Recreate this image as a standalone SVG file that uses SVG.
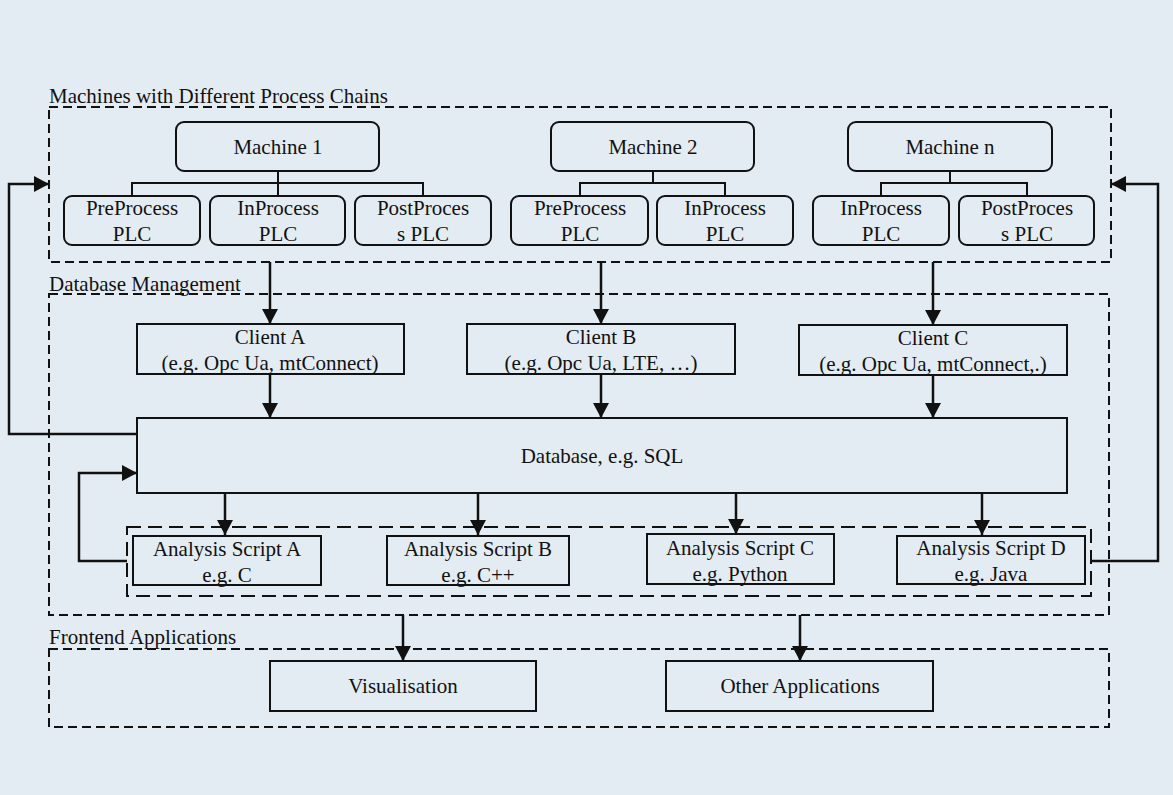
<svg xmlns="http://www.w3.org/2000/svg" width="1173" height="795" viewBox="0 0 1173 795">
  <style>
    text { font-family: "Liberation Serif", "Times New Roman", serif; font-size: 21px; fill: #111; }
    .mid { text-anchor: middle; }
    .box { fill: none; stroke: #111; stroke-width: 2; }
    .group { fill: none; stroke: #111; stroke-width: 2; stroke-dasharray: 9 5; }
    .inner { fill: none; stroke: #111; stroke-width: 2; stroke-dasharray: 14 7; }
    .link { fill: none; stroke: #111; stroke-width: 2; }
    .arrow { fill: none; stroke: #111; stroke-width: 2.5; marker-end: url(#head); }
  </style>
  <defs>
    <marker id="head" markerUnits="userSpaceOnUse" markerWidth="16" markerHeight="16" viewBox="0 0 16 16" refX="15" refY="8" orient="auto">
      <path d="M0,0 L15,8 L0,16 Z" fill="#111"/>
    </marker>
  </defs>

  <rect width="1173" height="795" fill="#e4ecf3"/>

  <!-- group frames -->
  <g id="groups">
    <text x="49" y="103">Machines with Different Process Chains</text>
    <rect class="group" x="49" y="107" width="1062" height="155"/>
    <text x="49" y="291">Database Management</text>
    <rect class="group" x="49" y="294" width="1060" height="321"/>
    <rect class="inner" x="127" y="527" width="964" height="69"/>
    <text x="49" y="644">Frontend Applications</text>
    <rect class="group" x="49" y="649" width="1060" height="78"/>
  </g>

  <!-- machines -->
  <g id="machine-1">
    <rect class="box" x="176" y="122" width="203" height="49" rx="8"/>
    <text class="mid" x="278" y="154">Machine 1</text>
  </g>
  <g id="m1-preprocess">
    <rect class="box" x="64" y="196" width="136" height="49" rx="8"/>
    <text class="mid" x="132" y="215">PreProcess</text>
    <text class="mid" x="132" y="241">PLC</text>
  </g>
  <g id="m1-inprocess">
    <rect class="box" x="210" y="196" width="135" height="49" rx="8"/>
    <text class="mid" x="278" y="215">InProcess</text>
    <text class="mid" x="278" y="241">PLC</text>
  </g>
  <g id="m1-postprocess">
    <rect class="box" x="355" y="196" width="136" height="49" rx="8"/>
    <text class="mid" x="423" y="215">PostProces</text>
    <text class="mid" x="423" y="241">s PLC</text>
  </g>

  <g id="machine-2">
    <rect class="box" x="551" y="122" width="203" height="49" rx="8"/>
    <text class="mid" x="653" y="154">Machine 2</text>
  </g>
  <g id="m2-preprocess">
    <rect class="box" x="511" y="196" width="137" height="49" rx="8"/>
    <text class="mid" x="580" y="215">PreProcess</text>
    <text class="mid" x="580" y="241">PLC</text>
  </g>
  <g id="m2-inprocess">
    <rect class="box" x="657" y="196" width="136" height="49" rx="8"/>
    <text class="mid" x="725" y="215">InProcess</text>
    <text class="mid" x="725" y="241">PLC</text>
  </g>

  <g id="machine-n">
    <rect class="box" x="848" y="122" width="204" height="49" rx="8"/>
    <text class="mid" x="950" y="154">Machine n</text>
  </g>
  <g id="mn-inprocess">
    <rect class="box" x="813" y="196" width="136" height="49" rx="8"/>
    <text class="mid" x="881" y="215">InProcess</text>
    <text class="mid" x="881" y="241">PLC</text>
  </g>
  <g id="mn-postprocess">
    <rect class="box" x="959" y="196" width="135" height="49" rx="8"/>
    <text class="mid" x="1027" y="215">PostProces</text>
    <text class="mid" x="1027" y="241">s PLC</text>
  </g>

  <!-- clients -->
  <g id="client-a">
    <rect class="box" x="137" y="324" width="267" height="50"/>
    <text class="mid" x="270" y="344">Client A</text>
    <text class="mid" x="270" y="370">(e.g. Opc Ua, mtConnect)</text>
  </g>
  <g id="client-b">
    <rect class="box" x="467" y="324" width="268" height="50"/>
    <text class="mid" x="601" y="344">Client B</text>
    <text class="mid" x="601" y="370">(e.g. Opc Ua, LTE, …)</text>
  </g>
  <g id="client-c">
    <rect class="box" x="799" y="325" width="268" height="50"/>
    <text class="mid" x="933" y="345">Client C</text>
    <text class="mid" x="933" y="371">(e.g. Opc Ua, mtConnect,.)</text>
  </g>

  <!-- database -->
  <g id="database">
    <rect class="box" x="137" y="418" width="930" height="75"/>
    <text class="mid" x="602" y="463">Database, e.g. SQL</text>
  </g>

  <!-- analysis scripts -->
  <g id="script-a">
    <rect class="box" x="133" y="536" width="188" height="49"/>
    <text class="mid" x="227" y="556">Analysis Script A</text>
    <text class="mid" x="227" y="582">e.g. C</text>
  </g>
  <g id="script-b">
    <rect class="box" x="387" y="536" width="182" height="49"/>
    <text class="mid" x="478" y="556">Analysis Script B</text>
    <text class="mid" x="478" y="582">e.g. C++</text>
  </g>
  <g id="script-c">
    <rect class="box" x="647" y="534" width="187" height="50"/>
    <text class="mid" x="740" y="555">Analysis Script C</text>
    <text class="mid" x="740" y="581">e.g. Python</text>
  </g>
  <g id="script-d">
    <rect class="box" x="897" y="536" width="188" height="48"/>
    <text class="mid" x="991" y="555">Analysis Script D</text>
    <text class="mid" x="991" y="581">e.g. Java</text>
  </g>

  <!-- frontend -->
  <g id="visualisation">
    <rect class="box" x="270" y="661" width="266" height="50"/>
    <text class="mid" x="403" y="693">Visualisation</text>
  </g>
  <g id="other-applications">
    <rect class="box" x="666" y="661" width="267" height="50"/>
    <text class="mid" x="800" y="693">Other Applications</text>
  </g>

  <!-- connectors -->
  <g id="connectors">
    <!-- machine trees -->
    <path class="link" d="M278,171 V183 M132,196 V183 H423 V196 M278,183 V196"/>
    <path class="link" d="M653,171 V183 M580,196 V183 H725 V196"/>
    <path class="link" d="M950,171 V183 M881,196 V183 H1027 V196"/>

    <!-- machines to clients -->
    <path class="arrow" d="M270,262 V324"/>
    <path class="arrow" d="M601,262 V324"/>
    <path class="arrow" d="M933,262 V325"/>

    <!-- clients to database -->
    <path class="arrow" d="M270,374 V418"/>
    <path class="arrow" d="M601,374 V418"/>
    <path class="arrow" d="M933,375 V418"/>

    <!-- database to scripts -->
    <path class="arrow" d="M225,493 V535"/>
    <path class="arrow" d="M478,493 V535"/>
    <path class="arrow" d="M736,493 V534"/>
    <path class="arrow" d="M982,493 V535"/>

    <!-- feedback loops -->
    <path class="arrow" d="M137,434 H9 V184 H49"/>
    <path class="arrow" d="M1091,561 H1158 V184 H1111"/>
    <path class="arrow" d="M127,561 H79 V473 H137"/>

    <!-- database management to frontend -->
    <path class="arrow" d="M403,615 V661"/>
    <path class="arrow" d="M800,615 V661"/>
  </g>
</svg>
